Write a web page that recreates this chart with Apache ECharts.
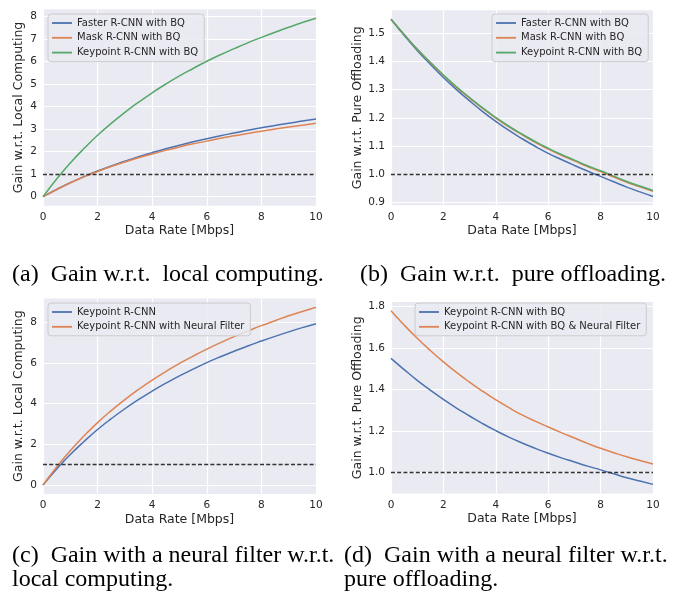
<!DOCTYPE html>
<html><head><meta charset="utf-8">
<script src="https://cdn.jsdelivr.net/npm/echarts@6/dist/echarts.min.js"></script>
<style>html,body{margin:0;padding:0;background:#fff}#c{width:673px;height:602px}</style>
</head><body><div id="c"></div>
<script>
// Data rate axis samples (Mbps)
const rates = [0,0.5,1,1.5,2,2.5,3,3.5,4,4.5,5,5.5,6,6.5,7,7.5,8,8.5,9,9.5,10];

// (a) Gain w.r.t. local computing
const aFaster   = [0,0.32,0.62,0.89,1.14,1.37,1.58,1.78,1.96,2.13,2.29,2.44,2.58,2.71,2.83,2.95,3.06,3.17,3.26,3.36,3.45];
const aMask     = [0,0.32,0.62,0.88,1.12,1.34,1.54,1.73,1.90,2.06,2.21,2.35,2.47,2.60,2.71,2.81,2.91,3.01,3.10,3.18,3.26];
const aKeypoint = [0,0.79,1.50,2.14,2.73,3.26,3.75,4.20,4.62,5.01,5.37,5.70,6.02,6.31,6.58,6.84,7.08,7.31,7.53,7.74,7.93];

// (b) Gain w.r.t. pure offloading
const bFaster   = [1.550,1.493,1.439,1.390,1.343,1.300,1.260,1.222,1.187,1.155,1.126,1.099,1.074,1.052,1.031,1.011,0.992,0.973,0.954,0.937,0.921];
const bMask     = [1.550,1.496,1.443,1.396,1.351,1.308,1.270,1.233,1.199,1.168,1.140,1.113,1.089,1.067,1.047,1.027,1.009,0.990,0.971,0.955,0.939];
const bKeypoint = [1.550,1.496,1.444,1.397,1.352,1.310,1.272,1.235,1.201,1.170,1.142,1.116,1.092,1.070,1.050,1.030,1.012,0.993,0.974,0.958,0.942];

// (c) Neural filter w.r.t. local computing
const cKeypoint = [0,0.79,1.50,2.14,2.73,3.26,3.75,4.20,4.62,5.01,5.37,5.70,6.02,6.31,6.58,6.84,7.08,7.31,7.53,7.74,7.93];
const cFilter   = [0,0.89,1.69,2.41,3.07,3.66,4.20,4.70,5.16,5.58,5.98,6.34,6.68,7.00,7.30,7.57,7.84,8.08,8.32,8.53,8.74];

// (d) Neural filter w.r.t. pure offloading
const dKeypoint = [1.550,1.496,1.444,1.397,1.352,1.310,1.272,1.235,1.201,1.170,1.142,1.116,1.092,1.070,1.050,1.030,1.012,0.993,0.974,0.958,0.942];
const dFilter   = [1.780,1.711,1.647,1.588,1.533,1.482,1.435,1.391,1.350,1.312,1.277,1.247,1.219,1.192,1.166,1.140,1.116,1.095,1.075,1.057,1.040];

// Tick labels
const xTicks = [0,2,4,6,8,10];
const aTicks = [0,1,2,3,4,5,6,7,8];
const bTicks = [0.9,1.0,1.1,1.2,1.3,1.4,1.5];
const cTicks = [0,2,4,6,8];
const dTicks = [1.0,1.2,1.4,1.6,1.8];

const threshold = 1;

const BLUE = '#4C72B0', ORANGE = '#DD8452', GREEN = '#55A868';
const TXT = '#262626';
const FONT = 'DejaVu Sans';

function pairs(arr){ return rates.map((x,i)=>[x, arr[i]]); }

function xAx(gi){
  return {type:'value', gridIndex:gi, min:0, max:10, interval:2,
    name:'Data Rate [Mbps]', nameLocation:'middle', nameGap:19,
    nameTextStyle:{fontSize:12.5, color:TXT, fontFamily:FONT},
    axisLine:{show:false}, axisTick:{show:false, customValues:xTicks},
    axisLabel:{fontSize:10.5, color:TXT, margin:6, fontFamily:FONT, customValues:xTicks},
    splitLine:{show:true, lineStyle:{color:'#ffffff', width:1.2}}};
}
function yAx(gi, min, max, ticks, name, gap, dec){
  return {type:'value', gridIndex:gi, min:min, max:max,
    name:name, nameLocation:'middle', nameGap:gap,
    nameTextStyle:{fontSize:12.5, color:TXT, fontFamily:FONT},
    axisLine:{show:false},
    axisTick:{show:false, customValues:ticks},
    axisLabel:{fontSize:10.5, color:TXT, margin:6, fontFamily:FONT, customValues:ticks,
      formatter:(v)=> dec ? Number(v).toFixed(dec) : String(Math.round(v))},
    splitLine:{show:true, lineStyle:{color:'#ffffff', width:1.2}}};
}
function line(name, gi, arr, color, withThreshold){
  const s = {type:'line', name:name, xAxisIndex:gi, yAxisIndex:gi, data:pairs(arr),
    smooth:true, symbol:'none', showSymbol:false,
    lineStyle:{width:1.5, color:color}, itemStyle:{color:color}, z:3};
  if (withThreshold) {
    s.markLine = {silent:true, symbol:'none', label:{show:false}, animation:false,
      lineStyle:{type:[4,2.2], color:'#333333', width:1.4},
      emphasis:{disabled:true}, data:[{yAxis:threshold}]};
  }
  return s;
}
function legend(left, top, items){
  return {orient:'vertical', left:left, top:top, icon:'rect', itemWidth:20, itemHeight:1.8,
    itemGap:4.8, padding:[4,6,4,4], backgroundColor:'rgba(234,234,242,0.85)',
    borderColor:'#cccccc', borderWidth:1, borderRadius:3,
    selectedMode:false,
    textStyle:{fontSize:10, color:TXT, fontFamily:FONT, lineHeight:10},
    data:items.map(it=>({name:it[0], itemStyle:{color:it[1]}}))};
}

const grids = [
  {left:43, top:9.3, width:273, height:196.4},
  {left:391, top:10.3, width:262, height:195},
  {left:43, top:298.4, width:273, height:195.5},
  {left:391, top:302, width:262, height:191.5}
].map(g=>Object.assign(g,{show:true, backgroundColor:'#EAEAF2', borderWidth:0, containLabel:false}));

const serifFont = '24px "Liberation Serif", "Times New Roman", serif';
function cap(x, y, t){
  return {type:'text', x:x, y:y, style:{text:t, font:serifFont, fill:'#000', verticalAlign:'middle', align:'left'}};
}

const option = {
  animation:false,
  textStyle:{fontFamily:FONT},
  grid:grids,
  xAxis:[xAx(0),xAx(1),xAx(2),xAx(3)],
  yAxis:[
    yAx(0,-0.4,8.33,aTicks,'Gain w.r.t. Local Computing',18,0),
    yAx(1,0.8895,1.5815,bTicks,'Gain w.r.t. Pure Offloading',26,1),
    yAx(2,-0.437,9.177,cTicks,'Gain w.r.t. Local Computing',18,0),
    yAx(3,0.898,1.822,dTicks,'Gain w.r.t. Pure Offloading',26,1)
  ],
  legend:[
    legend(48,14,[['Faster R-CNN with BQ',BLUE],['Mask R-CNN with BQ',ORANGE],['Keypoint R-CNN with BQ',GREEN]]),
    legend(492,14,[['Faster R-CNN with BQ',BLUE],['Mask R-CNN with BQ',ORANGE],['Keypoint R-CNN with BQ',GREEN]]),
    legend(48,303,[['Keypoint R-CNN',BLUE],['Keypoint R-CNN with Neural Filter',ORANGE]]),
    legend(415,303,[['Keypoint R-CNN with BQ',BLUE],['Keypoint R-CNN with BQ & Neural Filter',ORANGE]])
  ],
  series:[
    line('Faster R-CNN with BQ',0,aFaster,BLUE,false),
    line('Mask R-CNN with BQ',0,aMask,ORANGE,false),
    line('Keypoint R-CNN with BQ',0,aKeypoint,GREEN,true),
    line('Faster R-CNN with BQ',1,bFaster,BLUE,false),
    line('Mask R-CNN with BQ',1,bMask,ORANGE,false),
    line('Keypoint R-CNN with BQ',1,bKeypoint,GREEN,true),
    line('Keypoint R-CNN',2,cKeypoint,BLUE,false),
    line('Keypoint R-CNN with Neural Filter',2,cFilter,ORANGE,true),
    line('Keypoint R-CNN with BQ',3,dKeypoint,BLUE,false),
    line('Keypoint R-CNN with BQ & Neural Filter',3,dFilter,ORANGE,true)
  ],
  graphic:[
    cap(12,274.5,'(a)\u2002Gain w.r.t.\u2002local computing.'),
    cap(360,274.5,'(b)\u2002Gain w.r.t.\u2002pure offloading.'),
    cap(12,555.5,'(c)\u2002Gain with a neural filter w.r.t.'),
    cap(12,579.5,'local computing.'),
    cap(344,555.5,'(d)\u2002Gain with a neural filter w.r.t.'),
    cap(344,579.5,'pure offloading.')
  ]
};
const chart = echarts.init(document.getElementById('c'), null, {renderer:'canvas'});
chart.setOption(option);
</script></body></html>
